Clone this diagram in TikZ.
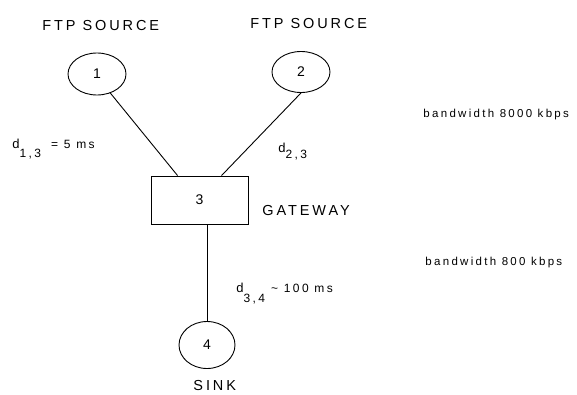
\documentclass[tikz,border=0pt]{standalone}
\usepackage{fontspec}
\setmainfont{Liberation Sans}[LetterSpace=20]
\usetikzlibrary{shapes.geometric}
\begin{document}
\begin{tikzpicture}[x=1pt,y=-1pt,line width=0.9pt,
  circ/.style={draw,ellipse,minimum width=58pt,minimum height=42pt,inner sep=0pt,font=\fontsize{14}{16}\selectfont},
  box/.style={draw,minimum width=97pt,minimum height=48pt,inner sep=0pt,font=\fontsize{14}{16}\selectfont},
  lbl/.style={anchor=base west,inner sep=0pt},
  big/.style={lbl,font=\fontsize{14.5}{17}\selectfont},
  small/.style={lbl,font=\fontsize{11.5}{13}\selectfont},
  dlab/.style={lbl,font=\fontsize{13}{15}\selectfont}]
\useasboundingbox (0,0) rectangle (577,394);
% nodes
\node[circ] (n1) at (97,74) {1};
\node[circ,minimum height=41pt] (n2) at (301,72) {2};
\node[box] (g) at (199.5,200) {3};
\node[circ,minimum width=56pt,minimum height=47pt] (n4) at (207,345) {4};
% connector ends on the gateway
\path (g.north west) ++(27,0) coordinate (g1);
\path (g.north west) ++(71,0) coordinate (g2);
\draw (n1.-55) -- (g1);
\draw (n2.south) -- (g2);
\draw (n4.north) -- (n4.north |- g.south);
% labels
\node[big] (fs1) at (42,30) {FTP SOURCE};
\node[big] (fs2) at (250,28) {FTP SOURCE};
\node[big] (gw) at (262,215) {GATEWAY};
\node[big] (sink) at (193,390) {SINK};
\node[small] (bw1) at (423,117) {bandwidth 8000 kbps};
\node[small] (bw2) at (425,265) {bandwidth 800 kbps};
\node[dlab] (d13) at (12,148) {d\raisebox{-9pt}{\fontsize{12}{14}\selectfont 1,3}\hspace{10pt}{\fontsize{12}{14}\selectfont = 5 ms}};
\node[dlab] (d23) at (278,152) {d\raisebox{-6pt}{\fontsize{12}{14}\selectfont 2,3}};
\node[dlab] (d34) at (236,292) {d\raisebox{-10pt}{\fontsize{12}{14}\selectfont 3,4}\hspace{6pt}{\fontsize{12}{14}\selectfont \textasciitilde\ 100 ms}};
\end{tikzpicture}
\end{document}
